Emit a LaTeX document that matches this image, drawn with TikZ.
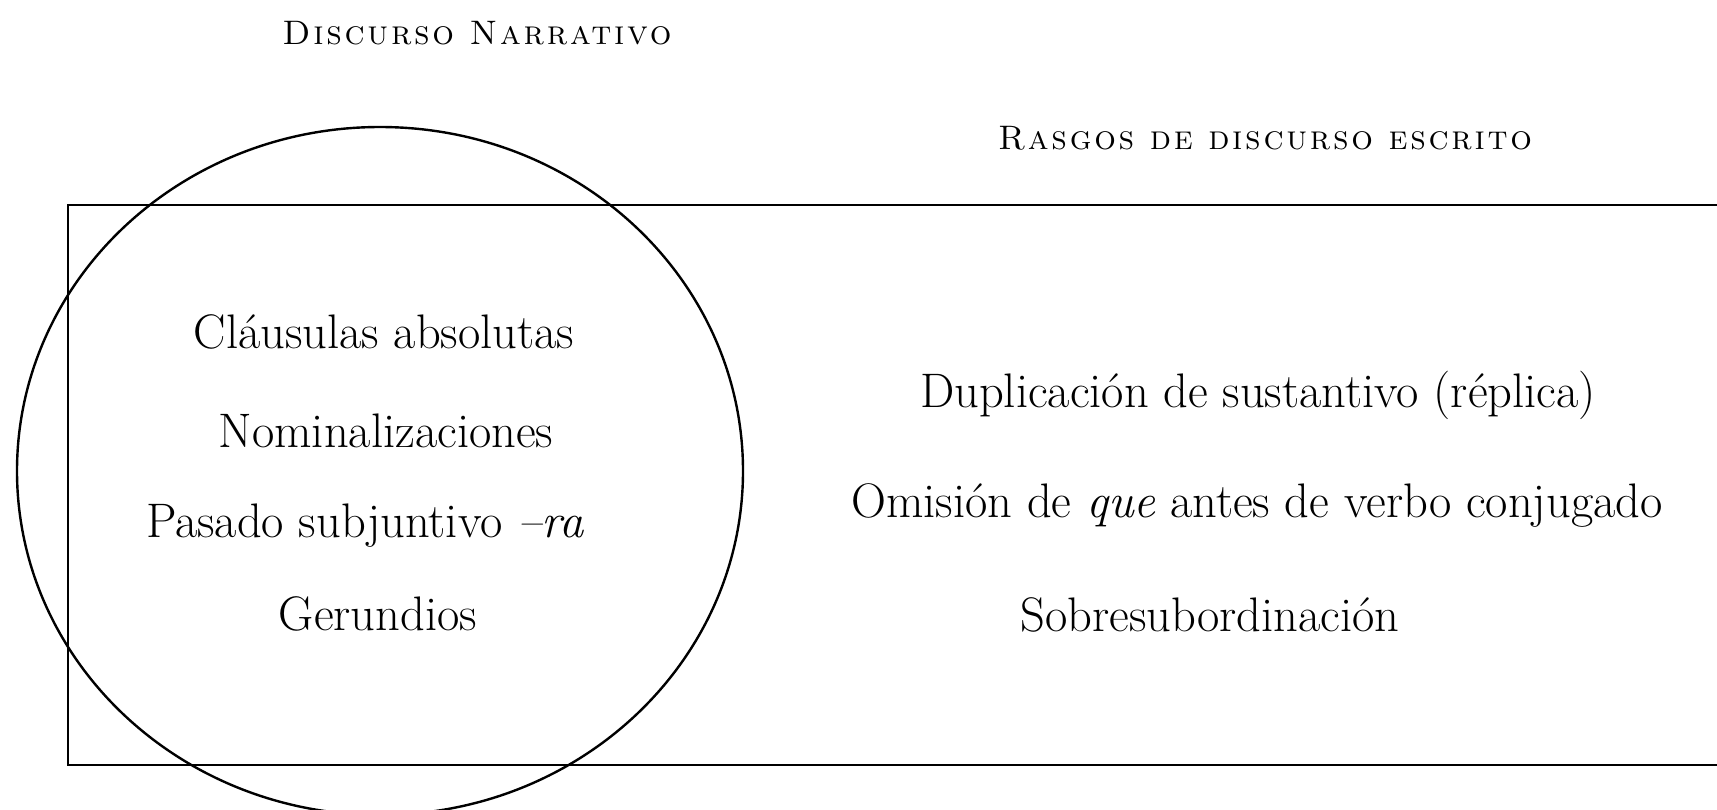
\documentclass[tikz,border=0pt]{standalone}
\usepackage{fontspec}
\newfontfamily\capsfont[LetterSpace=8]{lmromancaps10-regular.otf}
\usetikzlibrary{shapes.geometric}
\begin{document}
\begin{tikzpicture}[x=1pt,y=-1pt,
  body/.style={font=\fontsize{48.5}{54}\selectfont, anchor=base, inner sep=0pt},
  title/.style={font=\capsfont\fontsize{34}{40}\selectfont, anchor=base, inner sep=0pt},
  frame/.style={draw=black, line width=2.4pt, fill=none}]
\useasboundingbox (0,0) rectangle (1717,809);
\clip (0,0) rectangle (1717,809);
\node[frame, ellipse, minimum width=726pt, minimum height=688pt, inner sep=0pt] (circ) at (380,471) {};
\node[frame, rectangle, minimum width=1680pt, minimum height=560pt, inner sep=0pt, anchor=north west] (box) at (67,204) {};
\node[title] (t1) at (477,44) {Discurso Narrativo};
\node[title] (t2) at (1265,149) {Rasgos de discurso escrito};
\node[body] (a1) at (384,348) {Cláusulas absolutas};
\node[body] (a2) at (386,447) {Nominalizaciones};
\node[body] (a3) at (365,537) {Pasado subjuntivo \textit{–ra}};
\node[body] (a4) at (378,630) {Gerundios};
\node[body] (b1) at (1258,407) {Duplicación de sustantivo (réplica)};
\node[body] (b2) at (1257,517) {Omisión de \textit{que} antes de verbo conjugado};
\node[body] (b3) at (1210,631) {Sobresubordinación};
\end{tikzpicture}
\end{document}
